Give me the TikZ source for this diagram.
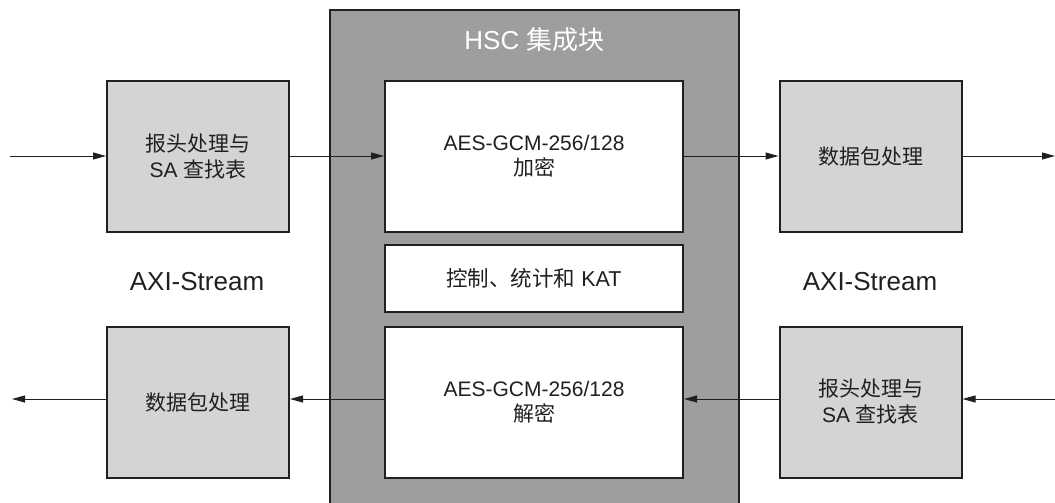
\documentclass[tikz,border=0pt]{standalone}
\usepackage{fontspec}
\setmainfont{Liberation Sans}
\newfontfamily\cjk{Noto Sans CJK SC}
\usetikzlibrary{arrows.meta}
\definecolor{ink}{HTML}{231F20}
\definecolor{hscgray}{HTML}{9D9F9E}
\definecolor{lightbox}{HTML}{D4D4D4}
\tikzset{
  x=1pt, y=-1pt,
  graybox/.style={draw=ink, line width=2pt, fill=lightbox, minimum width=182pt, minimum height=150pt, inner sep=0pt, align=center, font=\fontsize{21}{26}\selectfont, text=ink},
  whitebox/.style={draw=ink, line width=2pt, fill=white, minimum width=298pt, inner sep=0pt, align=center, font=\fontsize{21}{25}\selectfont, text=ink},
  flow/.style={draw=ink, line width=1pt, -{Triangle[length=13pt,width=7pt]}},
  lbl/.style={font=\fontsize{26}{30}\selectfont, text=ink},
}
\begin{document}
\begin{tikzpicture}
\useasboundingbox (0,0) rectangle (1055,503);
% HSC block
\fill[hscgray] (330,10) rectangle (739,503);
\draw[ink, line width=2pt] (330,503) -- (330,10) -- (739,10) -- (739,503);
\node[font=\fontsize{26}{30}\selectfont, text=white] (title) at (534.5,40) {HSC {\cjk 集成块}};
% inner white boxes
\node[whitebox, minimum height=151pt] (enc) at (534,156.5) {AES-GCM-256/128\\{\cjk 加密}};
\node[whitebox, minimum height=67pt, font=\fontsize{21.5}{25}\selectfont] (ctl) at (534,278.5) {{\cjk 控制、统计和} KAT};
\node[whitebox, minimum height=151pt] (dec) at (534,402.5) {AES-GCM-256/128\\{\cjk 解密}};
% side boxes
\node[graybox, minimum height=151pt] (lt) at (198,156.5) {{\cjk 报头处理与}\\SA {\cjk 查找表}};
\node[graybox, minimum height=151pt] (rt) at (870.5,156.5) {{\cjk 数据包处理}};
\node[graybox, minimum height=151pt] (lb) at (198,402) {{\cjk 数据包处理}};
\node[graybox, minimum height=151pt] (rb) at (870.5,402) {{\cjk 报头处理与}\\SA {\cjk 查找表}};
% labels
\node[lbl] (axil) at (197,282) {AXI-Stream};
\node[lbl] (axir) at (870,282) {AXI-Stream};
% free ends
\coordinate (inL) at (10,156);
\coordinate (outR) at (1055,156);
\coordinate (inR) at (1055,399);
\coordinate (outL) at (12,399);
% top flow
\draw[flow] (inL) -- (lt.west |- inL);
\draw[flow] (lt.east |- inL) -- (enc.west |- inL);
\draw[flow] (enc.east |- inL) -- (rt.west |- inL);
\draw[flow] (rt.east |- inL) -- (outR);
% bottom flow
\draw[flow] (inR) -- (rb.east |- inR);
\draw[flow] (rb.west |- inR) -- (dec.east |- inR);
\draw[flow] (dec.west |- inR) -- (lb.east |- inR);
\draw[flow] (lb.west |- inR) -- (outL);
\end{tikzpicture}
\end{document}
